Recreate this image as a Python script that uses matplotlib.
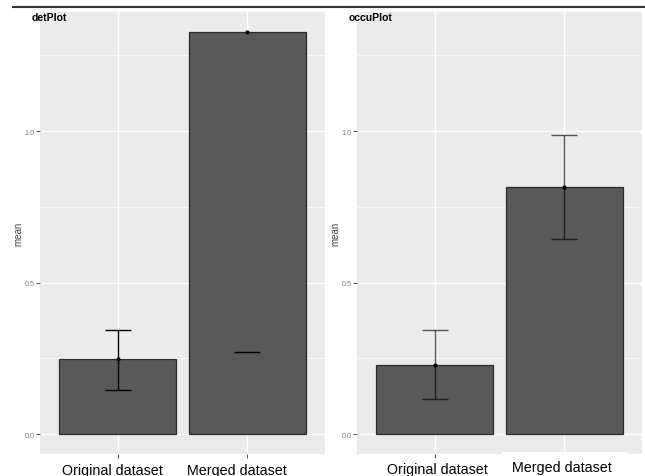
import numpy as np
import matplotlib.pyplot as plt
from matplotlib.patches import Rectangle
from matplotlib.lines import Line2D

plt.rcParams["font.family"] = ["Liberation Sans", "DejaVu Sans"]

groups = ["Original dataset", "Merged dataset"]

# detPlot
det_mean = [0.246, 1.328]
det_lower = [0.145, 0.270]
det_upper = [0.344, np.nan]

# occuPlot
occu_mean = [0.229, 0.816]
occu_lower = [0.116, 0.645]
occu_upper = [0.342, 0.986]

W, H = 645, 477
fig = plt.figure(figsize=(W / 100, H / 100), dpi=100)
fig.patch.set_facecolor("white")


def px_axes(x0, x1, y0, y1):
    return fig.add_axes([x0 / W, 1 - y1 / H, (x1 - x0) / W, (y1 - y0) / H])


def draw_panel(ax, means, lo, hi, title, err_alpha):
    x = np.arange(len(groups))
    ax.set_facecolor("#EBEBEB")
    ax.bar(x, means, width=0.9, color="#595959", edgecolor="#2b2b2b",
           linewidth=0.9, zorder=3)
    for xi, m, l, h in zip(x, means, lo, hi):
        if np.isfinite(l) and np.isfinite(h):
            ax.vlines(xi, l, h, color="black", lw=1.0, alpha=err_alpha, zorder=4)
        for v in (l, h):
            if np.isfinite(v):
                ax.hlines(v, xi - 0.1, xi + 0.1, color="black", lw=1.0,
                          alpha=err_alpha, zorder=4)
        ax.plot(xi, m, "o", color="black", ms=2, zorder=5)
    ax.set_xlim(-0.6, 1.6)
    ax.set_ylim(-0.066, 1.393)
    ax.set_xticks(x)
    ax.set_xticklabels([])
    ax.set_yticks([0.0, 0.5, 1.0])
    ax.set_yticklabels(["0.0", "0.5", "1.0"])
    ax.set_yticks([0.25, 0.75, 1.25], minor=True)
    ax.grid(True, which="major", color="white", lw=1.0, zorder=0)
    ax.grid(True, which="minor", axis="y", color="white", lw=0.5, zorder=0)
    ax.set_axisbelow(True)
    for s in ax.spines.values():
        s.set_visible(False)
    ax.tick_params(axis="both", which="major", length=3, width=0.6,
                   color="#333333", labelsize=5.2, labelcolor="#7f7f7f", pad=1.0)
    ax.tick_params(axis="y", which="minor", length=0)
    ax.set_ylabel("mean", fontsize=7, color="#444444", labelpad=0.5)
    ax.text(-0.03, 1.0, title, transform=ax.transAxes, ha="left", va="top",
            fontsize=7.5, fontweight="bold")


ax1 = px_axes(40, 325, 13, 455)
draw_panel(ax1, det_mean, det_lower, det_upper, "detPlot", 1.0)

ax2 = px_axes(357, 642, 13, 455)
draw_panel(ax2, occu_mean, occu_lower, occu_upper, "occuPlot", 0.65)

# top rule
fig.add_artist(Line2D([13 / W, 1.0], [1 - 7.5 / H, 1 - 7.5 / H],
                      color="#333333", lw=1.5))

# white box under the pasted label on the right panel
fig.add_artist(Rectangle((502 / W, 0), (628 - 502) / W, (477 - 453) / H,
                         facecolor="white", edgecolor="none",
                         transform=fig.transFigure, zorder=10))

label_pos = [(112, 475.5), (237, 475.5), (437, 474), (562, 472.5)]
for (px, py), lab in zip(label_pos, groups + groups):
    fig.text(px / W, 1 - py / H, lab, ha="center", va="baseline",
             fontsize=10.3, color="black", zorder=11)

fig.savefig("out.png", dpi=100)
